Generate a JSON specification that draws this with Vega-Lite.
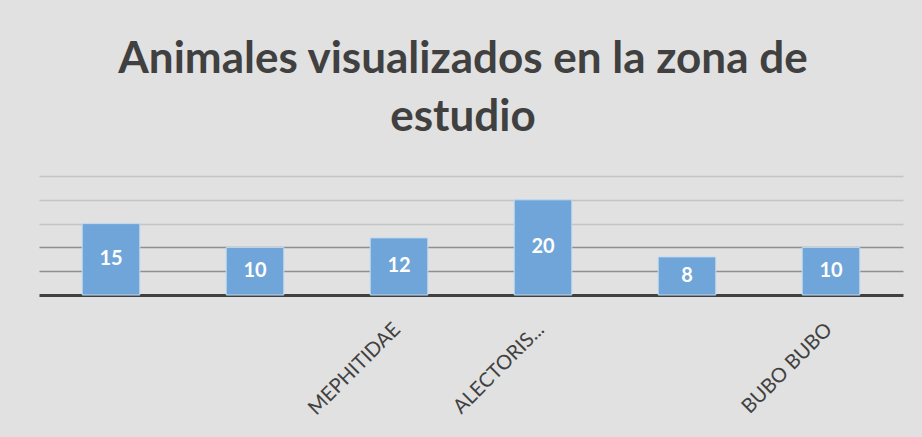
{
  "$schema": "https://vega.github.io/schema/vega-lite/v6.json",
  "width": 864,
  "height": 119,
  "autosize": {"type": "none"},
  "padding": {"left": 39, "top": 176, "right": 19, "bottom": 142},
  "background": "#e1e1e1",
  "title": {
    "text": ["Animales visualizados en la zona de", "estudio"],
    "font": "Lato",
    "fontSize": 44,
    "fontWeight": "bold",
    "color": "#404040",
    "lineHeight": 58,
    "anchor": "middle",
    "offset": 36,
    "dx": -8
  },
  "data": {
    "values": [
      {"animal": " ", "n": 15},
      {"animal": "  ", "n": 10},
      {"animal": "MEPHITIDAE", "n": 12},
      {"animal": "ALECTORIS...", "n": 20},
      {"animal": "   ", "n": 8},
      {"animal": "BUBO BUBO", "n": 10}
    ]
  },
  "encoding": {
    "x": {
      "field": "animal",
      "type": "nominal",
      "sort": null,
      "scale": {"paddingInner": 0.6, "paddingOuter": 0.3},
      "axis": {
        "title": null,
        "grid": false,
        "labelAngle": -45,
        "labelAlign": "right",
        "labelBaseline": "top",
        "labelFont": "Lato",
        "labelFontSize": 20,
        "labelColor": "#404040",
        "labelPadding": 24,
        "labelOffset": -9,
        "ticks": false,
        "domainColor": "#404040",
        "domainWidth": 3,
        "labelLimit": 200
      }
    },
    "y": {
      "field": "n",
      "type": "quantitative",
      "scale": {"domain": [0, 25], "nice": false},
      "axis": {
        "title": null,
        "labels": false,
        "ticks": false,
        "domain": false,
        "grid": true,
        "values": [5, 10, 15, 20, 25],
        "gridWidth": 1.5,
        "gridColor": {
          "condition": {"test": "datum.value <= 10", "value": "#8f8f8f"},
          "value": "#c4c4c4"
        }
      }
    }
  },
  "layer": [
    {
      "mark": {"type": "bar", "color": "#6fa5d9", "stroke": "#c3dbf0", "strokeWidth": 1}
    },
    {
      "mark": {
        "type": "text",
        "font": "Lato",
        "fontSize": 20,
        "fontWeight": "bold",
        "color": "#ffffff",
        "baseline": "middle",
        "dy": {"expr": "(scale('y', 0) - scale('y', datum.n)) / 2"}
      },
      "encoding": {
        "text": {"field": "n", "type": "quantitative"}
      }
    }
  ],
  "config": {
    "view": {"stroke": null}
  }
}
